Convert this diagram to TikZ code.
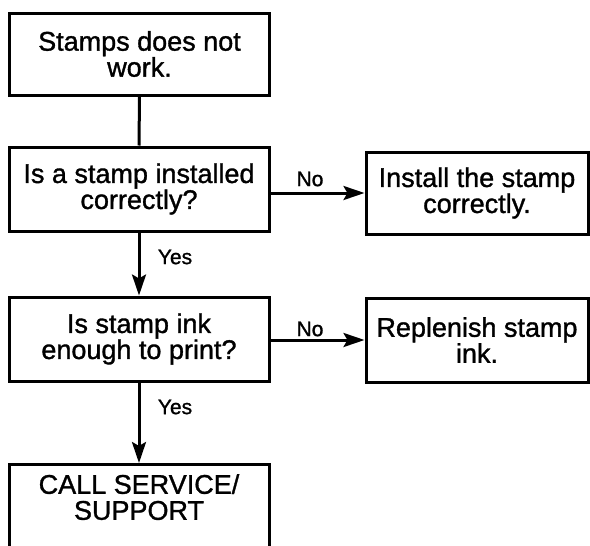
\documentclass[tikz,border=0pt]{standalone}
\usepackage{fontspec}
\setmainfont{Liberation Sans}[BoldFont=Liberation Sans, BoldFeatures={FakeBold=1.2}]
\usetikzlibrary{arrows.meta}
\begin{document}
\begin{tikzpicture}[x=1pt,y=-1pt,
  box/.style={draw, line width=3pt, minimum height=83pt, align=center,
    inner sep=0pt, font=\fontsize{27}{26}\selectfont\bfseries},
  leftbox/.style={box, minimum width=260pt},
  rightbox/.style={box, minimum width=222pt},
  conn/.style={line width=3pt},
  arr/.style={conn, -{Stealth[length=21pt,width=14pt,inset=4pt]}},
  lbl/.style={inner sep=0pt, font=\fontsize{21}{21}\selectfont\bfseries},
  boxtext/.style={inner sep=0pt, align=center, font=\fontsize{27}{26}\selectfont\bfseries}]
\useasboundingbox (0,0) rectangle (590,546);
\clip (0,0) rectangle (590,546);
\fill[white] (0,0) rectangle (590,546);

\node[leftbox, minimum height=82pt] (b1) at (139.5,54) {Stamps does not\\work.};
\node[leftbox, minimum height=84pt] (b2) at (139,189) {Is a stamp installed\\correctly?};
\node[rightbox, minimum height=82pt] (b3) at (477,193) {Install the stamp\\correctly.};
\node[leftbox, minimum height=84pt] (b4) at (139,339) {Is stamp ink\\enough to print?};
\node[rightbox, minimum height=84pt] (b5) at (477,340) {Replenish stamp\\ink.};
\node[leftbox, minimum height=110pt, anchor=north] (b6) at (139,463) {};
\node[boxtext, anchor=north] (b6t) at (139,474) {CALL SERVICE/\\SUPPORT};

\draw[conn] (b1.south) -- (b2.north);
\draw[arr] (b2.south) -- (b4.north);
\draw[arr] (b4.south) -- (b6.north);
\draw[arr] (b2.east |- b3.west) -- (b3.west);
\draw[arr] (b4.east |- b5.west) -- (b5.west);

\node[lbl] (no1) at (310,179) {No};
\node[lbl] (no2) at (310,329) {No};
\node[lbl] (yes1) at (175,257) {Yes};
\node[lbl] (yes2) at (175,407) {Yes};
\end{tikzpicture}
\end{document}
